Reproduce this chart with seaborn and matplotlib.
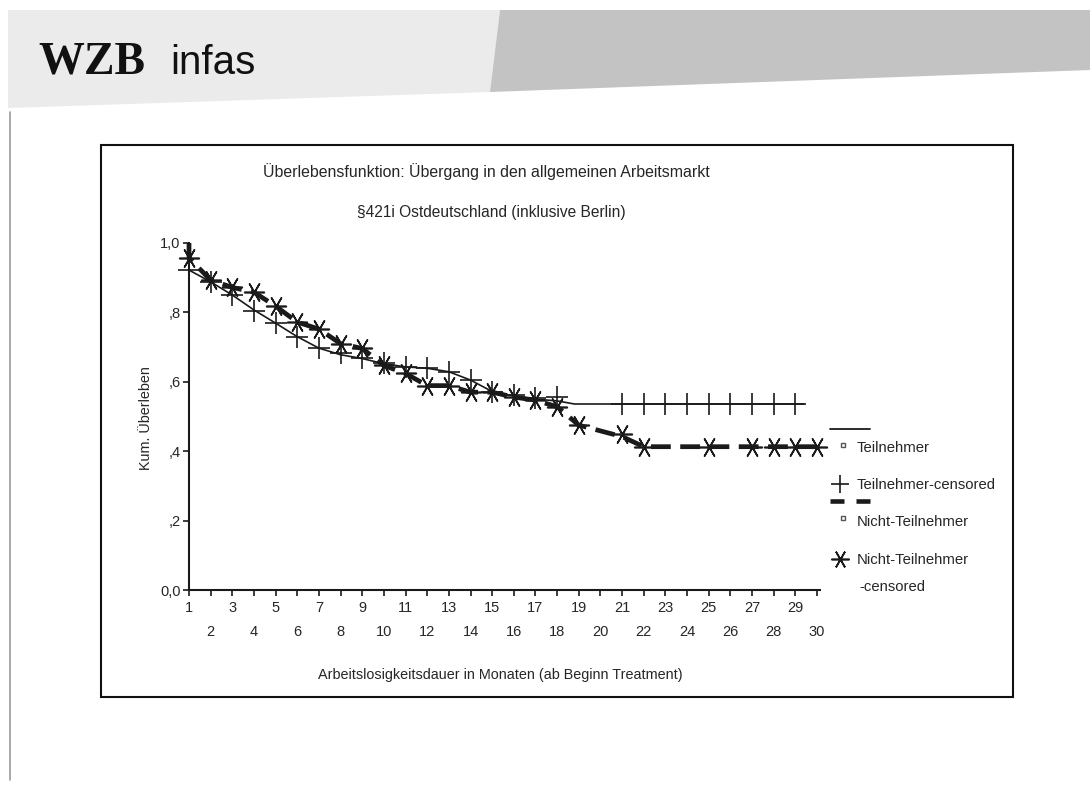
import matplotlib
matplotlib.use("Agg")
import matplotlib.pyplot as plt
import seaborn as sns
import numpy as np
from matplotlib.patches import Polygon, Rectangle
from matplotlib.lines import Line2D

# ---------------- data ----------------
months = list(range(1, 31))
odd_labels = [str(m) for m in months if m % 2 == 1]
even_labels = [str(m) for m in months if m % 2 == 0]
y_ticks = [0.0, 0.2, 0.4, 0.6, 0.8, 1.0]
y_tick_labels = ["0,0", ",2", ",4", ",6", ",8", "1,0"]

# Teilnehmer survival line
teil_x = [1, 2, 3, 4, 5, 6, 7, 8, 9, 10, 11, 12, 13, 14, 15, 16, 17, 18, 18.8, 29.4]
teil_y = [0.922, 0.888, 0.850, 0.807, 0.769, 0.730, 0.697, 0.678, 0.667, 0.652, 0.643,
          0.639, 0.629, 0.605, 0.572, 0.559, 0.550, 0.545, 0.536, 0.536]
# Teilnehmer censored marks
teil_c_x = [1, 2, 3, 4, 5, 6, 7, 8, 9, 10, 11, 12, 13, 14, 15, 16, 17, 18,
            21, 22, 23, 24, 25, 26, 27, 28, 29]
teil_c_y = [0.922, 0.888, 0.850, 0.805, 0.769, 0.730, 0.697, 0.683, 0.668, 0.654, 0.643,
            0.639, 0.629, 0.605, 0.572, 0.562, 0.552, 0.555,
            0.536, 0.536, 0.536, 0.536, 0.536, 0.536, 0.536, 0.536, 0.536]

# Nicht-Teilnehmer survival line
nicht_x = [1, 1, 2, 3, 4, 5, 6, 7, 8, 9, 10, 11, 12, 13, 14, 15, 16, 17, 18, 19, 21, 22, 30]
nicht_y = [1.0, 0.957, 0.893, 0.872, 0.858, 0.818, 0.772, 0.752, 0.710, 0.696, 0.647,
           0.624, 0.589, 0.589, 0.570, 0.570, 0.556, 0.547, 0.528, 0.475, 0.442, 0.413, 0.413]
# Nicht-Teilnehmer censored marks
nicht_c_x = [1, 2, 3, 4, 5, 6, 7, 8, 9, 10, 11, 12, 13, 14, 15, 16, 17, 18, 19,
             21, 22, 25, 27, 28, 29, 30]
nicht_c_y = [0.957, 0.893, 0.872, 0.858, 0.818, 0.772, 0.752, 0.710, 0.696, 0.647,
             0.624, 0.589, 0.589, 0.570, 0.570, 0.556, 0.547, 0.528, 0.475,
             0.450, 0.413, 0.413, 0.413, 0.413, 0.413, 0.413]

title1 = "Überlebensfunktion: Übergang in den allgemeinen Arbeitsmarkt"
title2 = "§421i Ostdeutschland (inklusive Berlin)"
ylabel = "Kum. Überleben"
xlabel = "Arbeitslosigkeitsdauer in Monaten (ab Beginn Treatment)"
legend_labels = ["Teilnehmer", "Teilnehmer-censored", "Nicht-Teilnehmer", "Nicht-Teilnehmer", "-censored"]

# ---------------- style ----------------
sns.set_theme(style="white")
plt.rcParams["font.family"] = ["Liberation Sans", "DejaVu Sans"]
INK = "#1a1a1a"
TXT = "#262626"

W, H = 1090, 785
fig = plt.figure(figsize=(W / 100, H / 100), dpi=100)
fig.patch.set_facecolor("white")

# background / overlay axes in pixel coordinates
bg = fig.add_axes([0, 0, 1, 1])
bg.set_xlim(0, W)
bg.set_ylim(H, 0)
bg.axis("off")
bg.set_zorder(0)

# header band
bg.add_patch(Polygon([(8, 10), (500, 10), (490, 92), (8, 108)], closed=True,
                     facecolor="#ebebeb", edgecolor="none"))
bg.add_patch(Polygon([(500, 10), (W, 10), (W, 70), (490, 92)], closed=True,
                     facecolor="#c3c3c3", edgecolor="none"))
bg.plot([10, 10], [112, 780], color="#9a9a9a", lw=1.2)
bg.text(38, 73, "WZB", fontsize=33, fontweight="bold",
        family=["Liberation Serif", "DejaVu Serif"], color="#111111", va="baseline", ha="left")
bg.text(170, 74, "infas", fontsize=29, fontweight="light",
        family=["Liberation Sans Narrow", "Liberation Sans", "DejaVu Sans"],
        color="#111111", va="baseline", ha="left")

# chart frame
bg.add_patch(Rectangle((101, 145), 912, 552, facecolor="none", edgecolor="#111111", lw=1.5))

# titles
bg.text(486, 172, title1, fontsize=11.4, color=TXT, ha="center", va="center")
bg.text(491, 212, title2, fontsize=11.2, color=TXT, ha="center", va="center")
bg.text(146, 418, ylabel, fontsize=10.4, color=TXT, ha="center", va="center", rotation=90)
bg.text(500, 675, xlabel, fontsize=10.4, color=TXT, ha="center", va="center")

# legend (drawn manually to mimic the SPSS layout)
lfs = 10.7
bg.add_line(Line2D([830, 870], [429, 429], color=INK, lw=1.3))
bg.plot([843], [445], marker="s", ms=3.5, mfc="white", mec="#555555", mew=1.0)
bg.text(857, 448, legend_labels[0], fontsize=lfs, color=TXT, va="center", ha="left")
bg.plot([840], [484], marker="+", ms=13, mec=INK, mew=1.2)
bg.text(857, 485, legend_labels[1], fontsize=lfs, color=TXT, va="center", ha="left")
bg.add_line(Line2D([830, 844], [501, 501], color=INK, lw=3.3, solid_capstyle="butt"))
bg.add_line(Line2D([856, 870], [501, 501], color=INK, lw=3.3, solid_capstyle="butt"))
bg.plot([843], [518], marker="s", ms=3.5, mfc="white", mec="#555555", mew=1.0)
bg.text(857, 522, legend_labels[2], fontsize=lfs, color=TXT, va="center", ha="left")
bg.plot([840], [559], marker=(6, 2, 90), ms=13, mec=INK, mew=1.2)
bg.text(857, 560, legend_labels[3], fontsize=lfs, color=TXT, va="center", ha="left")
bg.text(859, 587, legend_labels[4], fontsize=lfs, color=TXT, va="center", ha="left")

# ---------------- chart axes ----------------
x_left, x_right = 189, 820
y_bot, y_top = 590, 243
px_per_month = (817 - 189) / 29.0
ax = fig.add_axes([x_left / W, 1 - y_bot / H, (x_right - x_left) / W, (y_bot - y_top) / H])
ax.set_zorder(2)
ax.patch.set_alpha(0)
ax.set_xlim(1, 1 + (x_right - x_left) / px_per_month)
ax.set_ylim(0, 1.0)

sns.lineplot(x=teil_x, y=teil_y, ax=ax, color=INK, lw=1.2, sort=False, estimator=None,
             legend=False, zorder=3)
sns.lineplot(x=nicht_x, y=nicht_y, ax=ax, color=INK, lw=3.4, sort=False, estimator=None,
             legend=False, linestyle=(0, (4.2, 2.0)), zorder=4, dash_capstyle="butt")
sns.scatterplot(x=teil_c_x, y=teil_c_y, ax=ax, marker="+", s=230, color=INK,
                linewidth=1.2, legend=False, zorder=5, clip_on=False)
sns.scatterplot(x=nicht_c_x, y=nicht_c_y, ax=ax, marker=(6, 2, 90), s=200, color=INK,
                edgecolor=INK, linewidth=1.2, legend=False, zorder=5, clip_on=False)
for l in ax.lines:
    l.set_clip_on(False)

for s in ["top", "right"]:
    ax.spines[s].set_visible(False)
for s in ["left", "bottom"]:
    ax.spines[s].set_color(INK)
    ax.spines[s].set_linewidth(1.5)

odd = [m for m in months if m % 2 == 1]
even = [m for m in months if m % 2 == 0]
ax.set_xticks(odd)
ax.set_xticklabels(odd_labels)
ax.set_xticks(even, minor=True)
ax.set_xticklabels(even_labels, minor=True)
ax.set_yticks(y_ticks)
ax.set_yticklabels(y_tick_labels)
ax.tick_params(axis="x", which="major", direction="out", length=4, width=1.2,
               color=INK, labelsize=10.5, labelcolor=TXT, pad=4, bottom=True)
ax.tick_params(axis="x", which="minor", direction="out", length=4, width=1.2,
               color=INK, labelsize=10.5, labelcolor=TXT, pad=21, bottom=True)
ax.tick_params(axis="y", direction="out", length=4, width=1.2, color=INK,
               labelsize=10.5, labelcolor=TXT, pad=2, left=True)
ax.set_xlabel("")
ax.set_ylabel("")
ax.grid(False)

fig.savefig("out.png", dpi=100, facecolor="white")
